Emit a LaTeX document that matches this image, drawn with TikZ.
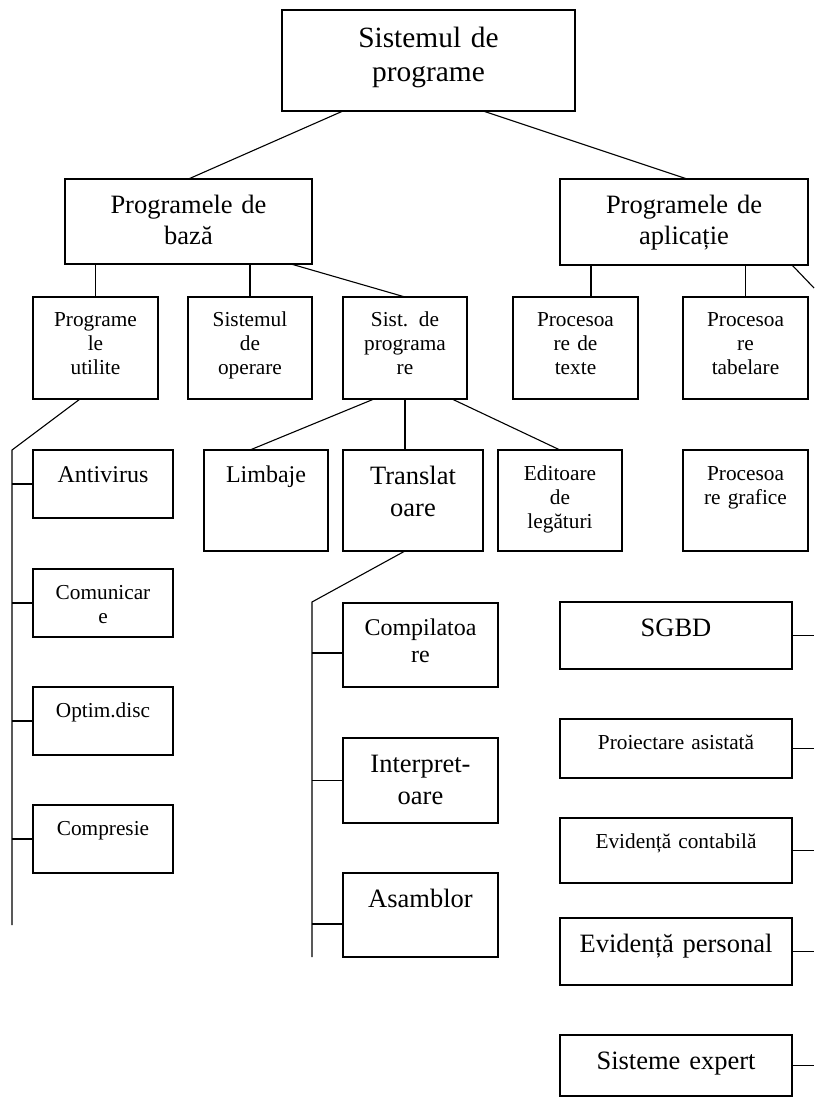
\documentclass[tikz,border=0pt]{standalone}
\usepackage{fontspec}
\setmainfont{Liberation Serif}
\usepackage{tikz}
\usetikzlibrary{positioning}

\begin{document}
\begin{tikzpicture}[
  x=0.5pt, y=-0.5pt,
  cell/.style={draw, line width=0.6pt, inner sep=0pt, outer sep=0pt},
  link/.style={line width=0.55pt, draw=black},
  txt/.style={anchor=base, text width=120pt, align=center, inner sep=0pt},
  txtxl/.style={txt, yshift=-19pt, font=\fontsize{14.7}{17}\selectfont},
  txtlg/.style={txt, yshift=-17.25pt, font=\fontsize{13.25}{15.75}\selectfont},
  txtmd/.style={txt, yshift=-16pt, font=\fontsize{12}{13.5}\selectfont},
  txtsm/.style={txt, yshift=-15pt, font=\fontsize{10.65}{12}\selectfont}
]
\useasboundingbox (0,0) rectangle (814,1112);

\node[cell, minimum width=146.5pt, minimum height=50.5pt,
  label={[txtxl]north:{Sistemul de\\programe}}] (prog) at (428.5,60.5) {};
\node[cell, minimum width=123.5pt, minimum height=42.5pt,
  label={[txtlg]north:{Programele de\\bază}}] (baza) at (188.5,221.5) {};
\node[cell, minimum width=124pt, minimum height=43pt,
  label={[txtlg]north:{Programele de\\aplicație}}] (aplic) at (684,222) {};

\node[cell, minimum width=62.5pt, minimum height=51pt,
  label={[txtsm]north:{Programe\\le\\utilite}}] (util) at (95.5,348) {};
\node[cell, minimum width=62pt, minimum height=51pt,
  label={[txtsm]north:{Sistemul\\de\\operare}}] (sisop) at (250,348) {};
\node[cell, minimum width=62pt, minimum height=51pt,
  label={[txtsm]north:{Sist. de\\programa\\re}}] (sisprog) at (405,348) {};
\node[cell, minimum width=62.5pt, minimum height=51pt,
  label={[txtsm]north:{Procesoa\\re de\\texte}}] (proctext) at (575.5,348) {};
\node[cell, minimum width=62.5pt, minimum height=51pt,
  label={[txtsm]north:{Procesoa\\re\\tabelare}}] (proctab) at (745.5,348) {};

\node[cell, minimum width=70pt, minimum height=34pt,
  label={[txtmd]north:{Antivirus}}] (antiv) at (103,484) {};
\node[cell, minimum width=62pt, minimum height=50.5pt,
  label={[txtmd]north:{Limbaje}}] (limb) at (266,500.5) {};
\node[cell, minimum width=70pt, minimum height=50.5pt,
  label={[txtlg]north:{Translat\\oare}}] (transl) at (413,500.5) {};
\node[cell, minimum width=62pt, minimum height=50.5pt,
  label={[txtsm]north:{Editoare\\de\\legături}}] (edit) at (560,500.5) {};
\node[cell, minimum width=62.5pt, minimum height=50.5pt,
  label={[txtsm]north:{Procesoa\\re grafice}}] (procgraf) at (745.5,500.5) {};

\node[cell, minimum width=70pt, minimum height=34pt,
  label={[txtsm]north:{Comunicar\\e}}] (comun) at (103,603) {};
\node[cell, minimum width=70pt, minimum height=34pt,
  label={[txtsm]north:{Optim.disc}}] (optim) at (103,721) {};
\node[cell, minimum width=70pt, minimum height=34pt,
  label={[txtsm]north:{Compresie}}] (compr) at (103,839) {};

\node[cell, minimum width=77.5pt, minimum height=42pt,
  label={[txtmd]north:{Compilatoa\\re}}] (compil) at (420.5,645) {};
\node[cell, minimum width=77.5pt, minimum height=42.5pt,
  label={[txtlg]north:{Interpret-\\oare}}] (interp) at (420.5,780.5) {};
\node[cell, minimum width=77.5pt, minimum height=42pt,
  label={[txtlg]north:{Asamblor}}] (asambl) at (420.5,915) {};

\node[cell, minimum width=116pt, minimum height=33.5pt,
  label={[txtlg]north:{SGBD}}] (sgbd) at (676,635.5) {};
\node[cell, minimum width=116pt, minimum height=29.5pt,
  label={[txtsm]north:{Proiectare asistată}}] (proiect) at (676,748.5) {};
\node[cell, minimum width=116pt, minimum height=32.5pt,
  label={[txtsm]north:{Evidență contabilă}}] (contab) at (676,850.5) {};
\node[cell, minimum width=116pt, minimum height=33.5pt,
  label={[txtlg]north:{Evidență personal}}] (personal) at (676,951.5) {};
\node[cell, minimum width=116pt, minimum height=30.5pt,
  label={[txtlg]north:{Sisteme expert}}] (expert) at (676,1065.5) {};

\coordinate (railL) at (12,450);
\coordinate (railLend) at (12,925);
\coordinate (railT) at (312,602);
\coordinate (railTend) at (312,957);
\coordinate (edge) at (814,0);
\coordinate (aplicout) at (814,288);

\draw[link] ([xshift=-42.75pt]prog.south) -- (baza.north);
\draw[link] ([xshift=27.25pt]prog.south) -- ([xshift=1.5pt]aplic.north);
\draw[link] (baza.south -| util.north) -- (util.north);
\draw[link] (baza.south -| sisop.north) -- (sisop.north);
\draw[link] ([xshift=51.25pt]baza.south) -- (sisprog.north);
\draw[link] ([xshift=7.75pt]proctext.north) -- ++(0,-32);
\draw[link] (aplic.south -| proctab.north) -- (proctab.north);
\draw[link] ([xshift=54pt]aplic.south) -- (aplicout);
\draw[link] ([xshift=-7.75pt]util.south) -- (railL) -- (railLend);
\foreach \b in {antiv,comun,optim,compr}
  \draw[link] (railL |- \b.west) -- (\b.west);
\draw[link] ([xshift=-15.5pt]sisprog.south) -- ([xshift=-8pt]limb.north);
\draw[link] (sisprog.south) -- (sisprog.south |- transl.north);
\draw[link] ([xshift=23.5pt]sisprog.south) -- (edit.north);
\draw[link] ([xshift=-4pt]transl.south) -- (railT) -- (railTend);
\draw[link] (railT |- compil.west) ++(0,8) -- ([yshift=-4pt]compil.west);
\draw[link] (railT |- interp.west) -- (interp.west);
\draw[link] (railT |- asambl.west) ++(0,9) -- ([yshift=-4.5pt]asambl.west);
\foreach \b in {sgbd,proiect,contab,personal,expert}
  \draw[link] (\b.east) -- (\b.east -| edge);
\end{tikzpicture}
\end{document}
